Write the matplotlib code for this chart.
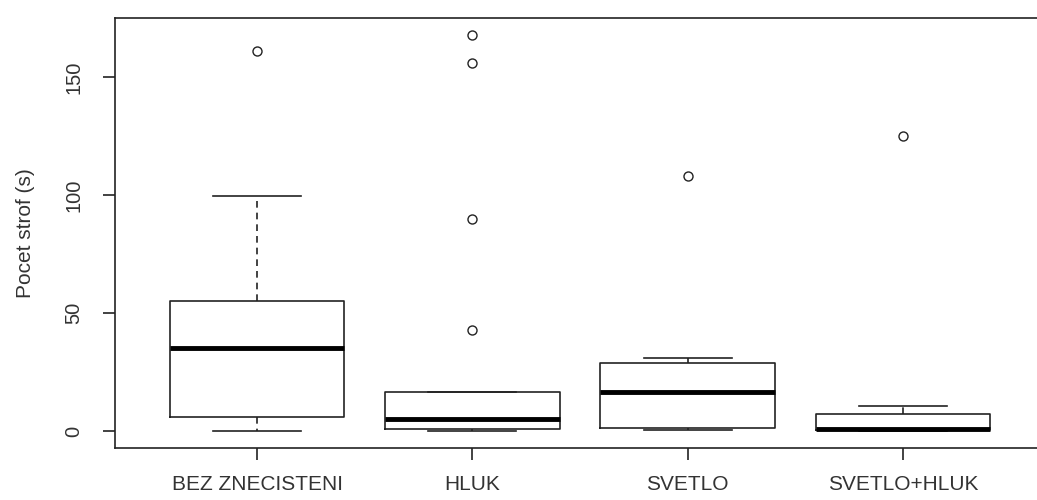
import matplotlib
matplotlib.use("Agg")
import matplotlib.pyplot as plt

plt.rcParams['font.family'] = ['Liberation Sans', 'DejaVu Sans']

# five-number summaries per treatment, plus points beyond the whiskers
groups = ["BEZ ZNECISTENI", "HLUK", "SVETLO", "SVETLO+HLUK"]
whislo = [0, 0, 0.3, 0]
q1 = [6, 1, 1.3, 0.6]
med = [35, 5, 16.5, 0.8]
q3 = [55, 16.5, 28.8, 7.2]
whishi = [99.5, 16.5, 31, 10.6]
outliers = [[161], [43, 90, 156, 168], [108], [125]]

stats = []
for i, name in enumerate(groups):
    stats.append(dict(label=name, whislo=whislo[i], q1=q1[i], med=med[i],
                      q3=q3[i], whishi=whishi[i], fliers=outliers[i]))

fig = plt.figure(figsize=(10.37, 5.0), dpi=100)
ax = fig.add_axes([115 / 1037, 1 - 448 / 500, 930 / 1037, 430 / 500])

ink = "#222222"
ax.bxp(stats, positions=range(1, 5), widths=0.81, showfliers=True,
       boxprops=dict(color=ink, linewidth=1.2),
       medianprops=dict(color="black", linewidth=3.5, solid_capstyle="butt"),
       whiskerprops=dict(color=ink, linewidth=1.2, linestyle=(0, (4, 3))),
       capprops=dict(color=ink, linewidth=1.2),
       capwidths=0.41,
       flierprops=dict(marker="o", markersize=6.5, markerfacecolor="none",
                       markeredgecolor=ink, markeredgewidth=1.0))

ax.set_xlim(0.34, 4.66)
ax.set_ylim(-7.2, 175)
ax.set_yticks([0, 50, 100, 150])
ax.set_yticklabels(["0", "50", "100", "150"], rotation=90, va="center")

for s in ax.spines.values():
    s.set_color(ink)
    s.set_linewidth(1.2)
# the frame runs off the right edge of the canvas
ax.spines["right"].set_visible(False)

ax.tick_params(axis="both", colors=ink, length=8.6, width=1.2,
               labelsize=14.5, labelcolor="#333333")
ax.tick_params(axis="x", pad=11, labelsize=15)
ax.tick_params(axis="y", pad=14)
ax.set_ylabel("Pocet strof (s)", fontsize=15, color="#333333", labelpad=21)

fig.savefig("out.png", dpi=100)
